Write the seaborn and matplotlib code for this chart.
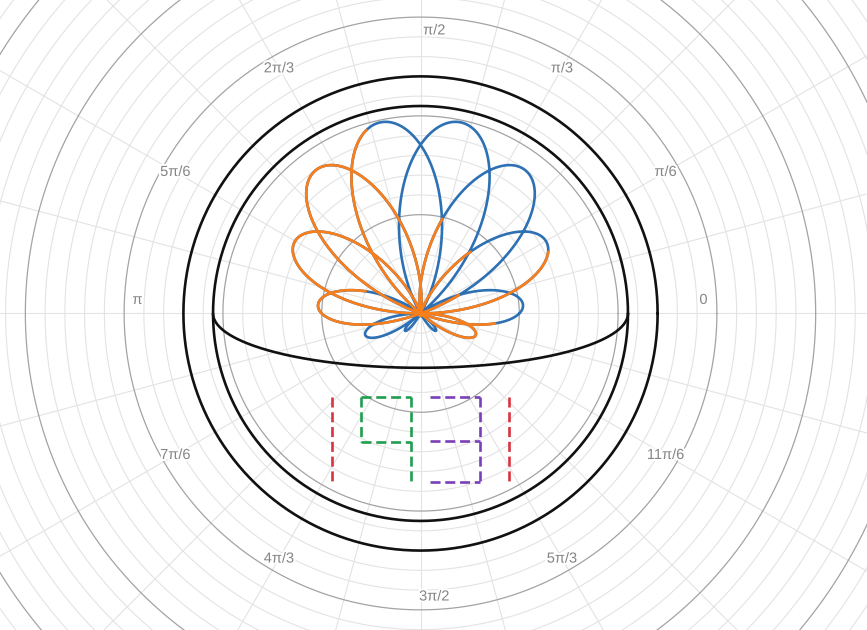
import numpy as np
import pandas as pd
import matplotlib.pyplot as plt
import matplotlib.patheffects as pe
import seaborn as sns

# ---------------------------------------------------------------
# values (graph units, 1 unit = major ring)
# ---------------------------------------------------------------
x_view = [-4.256, 4.519]
y_view = [-3.204, 3.173]

ring_black = [2.1, 2.4]          # the two black circles
bowl_a, bowl_b = 2.1, 0.55       # lower half ellipse

# flower  r = sin(t) + cos(k t), traced over two turns
flower_k = 3.5
flower_turns = 2
# stretches of t (deg) that show in orange on top of the blue
orange_t = [(106.4, 180.0), (338.0, 385.7), (437.0, 565.8), (591.0, 712.4)]

# dashed glyphs below the bowl: (x0, y0, x1, y1)
red_segs = [(-0.9, -0.85, -0.9, -1.70), (0.9, -0.85, 0.9, -1.70)]
green_segs = [(-0.6, -0.85, -0.1, -0.85), (-0.1, -0.85, -0.1, -1.74),
              (-0.6, -0.85, -0.6, -1.30), (-0.6, -1.30, -0.1, -1.30)]
purple_segs = [(0.1, -0.85, 0.6, -0.85), (0.6, -0.85, 0.6, -1.71),
               (0.1, -1.29, 0.6, -1.29), (0.1, -1.71, 0.6, -1.71)]

tick_labels = ['0', 'π/6', 'π/3', 'π/2', '2π/3', '5π/6', 'π',
               '7π/6', '4π/3', '3π/2', '5π/3', '11π/6']
label_r = 2.865

colors = {'blue': '#2d70b3', 'orange': '#fa7e19', 'red': '#d8343f',
          'green': '#1f9e4f', 'purple': '#7a3fb8', 'black': '#111111'}

# ---------------------------------------------------------------
sns.set_theme(style='white')
plt.rcParams['font.family'] = ['Liberation Sans', 'DejaVu Sans']

fig = plt.figure(figsize=(8.67, 6.30), dpi=100)
ax = fig.add_axes([0, 0, 1, 1])
ax.set_xlim(x_view)
ax.set_ylim(y_view)
ax.set_aspect('equal')
ax.axis('off')

# polar grid
t = np.linspace(0, 2 * np.pi, 721)
for k in range(1, 31):
    r = k * 0.2
    major = k % 5 == 0
    ax.plot(r * np.cos(t), r * np.sin(t),
            color='#a3a3a3' if major else '#e3e3e3',
            lw=0.9 if major else 0.8, zorder=1 if major else 0)
for a in np.arange(0, 360, 15):
    ar = np.radians(a)
    ax.plot([0, 7 * np.cos(ar)], [0, 7 * np.sin(ar)],
            color='#e3e3e3', lw=0.8, zorder=0)

# angle labels
for i, lab in enumerate(tick_labels):
    ar = np.radians(30 * i)
    x, y = label_r * np.cos(ar), label_r * np.sin(ar)
    if i in (0, 6):
        y += 0.137
    if i in (3, 9):
        x += 0.14
    ax.text(x, y, lab, ha='center', va='center', fontsize=10.5,
            color='#858585', zorder=3,
            path_effects=[pe.withStroke(linewidth=3, foreground='white')])

# black circles and bowl
for r in ring_black:
    ax.plot(r * np.cos(t), r * np.sin(t), color=colors['black'], lw=1.9, zorder=4)
tb = np.linspace(np.pi, 2 * np.pi, 361)
ax.plot(bowl_a * np.cos(tb), bowl_b * np.sin(tb), color=colors['black'], lw=1.9, zorder=4)

# flower: blue full trace, orange stretches drawn over it
def trace(t0, t1, n):
    th = np.radians(np.linspace(t0, t1, n))
    r = np.sin(th) + np.cos(flower_k * th)
    return r * np.cos(th), r * np.sin(th)

rows = []
bx, by = trace(0, 360 * flower_turns, 4000)
rows += [('blue', 'b', xx, yy) for xx, yy in zip(bx, by)]
for j, (t0, t1) in enumerate(orange_t):
    ox, oy = trace(t0, t1, 800)
    rows += [('orange', f'o{j}', xx, yy) for xx, yy in zip(ox, oy)]
flower = pd.DataFrame(rows, columns=['col', 'seg', 'x', 'y'])

for col in ('blue', 'orange'):
    sub = flower[flower['col'] == col]
    sns.lineplot(data=sub, x='x', y='y', units='seg', estimator=None, sort=False,
                 color=colors[col], lw=1.9, ax=ax, zorder=5)

# dashed glyphs
for segs, c in ((red_segs, 'red'), (green_segs, 'green'), (purple_segs, 'purple')):
    for x0, y0, x1, y1 in segs:
        ax.plot([x0, x1], [y0, y1], color=colors[c], lw=1.9,
                dashes=(3.8, 1.8), zorder=5)

ax.set_xlim(x_view)
ax.set_ylim(y_view)
ax.set_xlabel('')
ax.set_ylabel('')
fig.savefig('out.png', dpi=100)
